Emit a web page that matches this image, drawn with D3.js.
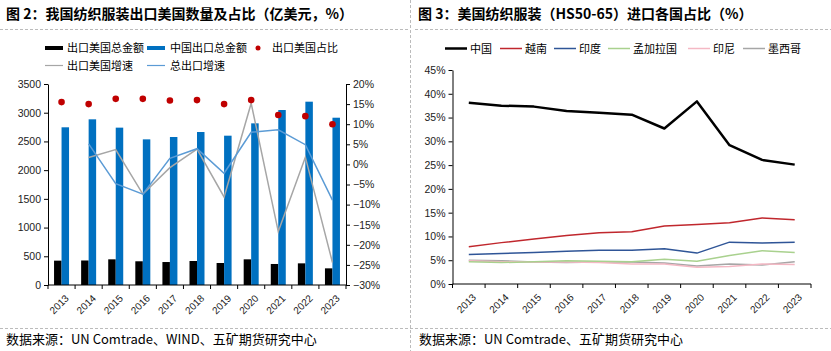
<!DOCTYPE html>
<html lang="zh">
<head>
<meta charset="utf-8"/>
<title>纺织服装出口美国</title>
<script src="https://d3js.org/d3.v7.min.js"></script>
<style>
    body { margin: 0; background: #fff; }
    svg { font-family: "Liberation Sans", Arial, sans-serif; }
    .cn { font-family: "Noto Sans CJK SC", sans-serif; }
    .axis path, .axis line { stroke: #000; }
    .axis text { font-size: 10px; fill: #222; }
</style>
</head>
<body>
<svg id="chart" width="831" height="351"></svg>
<script>
    // 年份
    const years = ["2013", "2014", "2015", "2016", "2017", "2018", "2019", "2020", "2021", "2022", "2023"];

    // 图2 数据（亿美元，%）
    const usExport = [424, 427, 447, 413, 400, 418, 383, 447, 366, 377, 290];
    const totalExport = [2746, 2885, 2740, 2536, 2577, 2664, 2600, 2815, 3047, 3192, 2913];
    const usShare = [15.5, 15.0, 16.3, 16.3, 15.9, 16.0, 15.0, 16.0, 12.3, 12.0, 10.0];
    const usGrowth = [null, 1.7, 3.7, -7.4, -0.8, 3.8, -8.1, 15.2, -16.7, 1.8, -24.4];
    const totalGrowth = [null, 5.1, -4.8, -7.4, 1.5, 3.9, -2.2, 8.0, 8.6, 4.9, -8.9];
    const leftTicks = [0, 500, 1000, 1500, 2000, 2500, 3000, 3500];
    const rightTicks = [-30, -25, -20, -15, -10, -5, 0, 5, 10, 15, 20];

    // 图3 数据（%）
    const countries = ["中国", "越南", "印度", "孟加拉国", "印尼", "墨西哥"];
    const china = [38.1, 37.5, 37.3, 36.4, 36.0, 35.6, 32.7, 38.4, 29.2, 26.1, 25.1];
    const vietnam = [7.85, 8.7, 9.46, 10.2, 10.8, 11.0, 12.2, 12.5, 12.9, 13.9, 13.5];
    const india = [6.2, 6.4, 6.6, 6.9, 7.1, 7.1, 7.4, 6.5, 8.8, 8.6, 8.8];
    const bangladesh = [4.7, 4.5, 4.7, 4.9, 4.8, 4.7, 5.2, 4.8, 6.0, 7.0, 6.6];
    const indonesia = [4.9, 4.7, 4.6, 4.6, 4.5, 4.2, 4.2, 3.5, 3.7, 4.2, 4.1];
    const mexico = [5.0, 4.9, 4.6, 4.5, 4.6, 4.6, 4.4, 3.8, 4.2, 4.0, 4.7];
    const shareTicks = [0, 5, 10, 15, 20, 25, 30, 35, 40, 45];

    const svg = d3.select("#chart");

    // 分隔线
    svg.append("line").attr("x1", 410.5).attr("x2", 410.5).attr("y1", 0).attr("y2", 351)
        .attr("stroke", "#bbb").attr("stroke-dasharray", "3,2");
    [[0, 410], [415, 831]].forEach(r => {
        svg.append("line").attr("x1", r[0]).attr("x2", r[1]).attr("y1", 29.5).attr("y2", 29.5)
            .attr("stroke", "#bbb").attr("stroke-dasharray", "3,2");
    });
    svg.append("line").attr("x1", 0).attr("x2", 831).attr("y1", 328.5).attr("y2", 328.5)
        .attr("stroke", "#bbb").attr("stroke-dasharray", "3,2");

    // 标题
    svg.append("text").attr("class", "cn").attr("x", 6).attr("y", 19)
        .style("font-size", "14px").style("font-weight", "bold")
        .text("图 2：我国纺织服装出口美国数量及占比（亿美元，%）");
    svg.append("text").attr("class", "cn").attr("x", 418).attr("y", 19)
        .style("font-size", "14px").style("font-weight", "bold")
        .text("图 3：美国纺织服装（HS50-65）进口各国占比（%）");

    // 数据来源
    svg.append("text").attr("class", "cn").attr("x", 6).attr("y", 344)
        .style("font-size", "13px").text("数据来源：UN Comtrade、WIND、五矿期货研究中心");
    svg.append("text").attr("class", "cn").attr("x", 419).attr("y", 344)
        .style("font-size", "13px").text("数据来源：UN Comtrade、五矿期货研究中心");

    // ---------- 图2 ----------
    const g1 = svg.append("g");
    const x1 = d3.scaleBand().domain(years).range([48, 346]);
    const yL = d3.scaleLinear().domain([0, 3500]).range([285, 84]);
    const yR = d3.scaleLinear().domain([-30, 20]).range([285, 84]);
    const barW = 7.5;

    g1.append("g").attr("class", "axis").attr("transform", "translate(48,0)")
        .call(d3.axisLeft(yL).tickValues(leftTicks).tickSize(4).tickSizeOuter(0)
            .tickFormat(d3.format("d")))
        .selectAll("text").style("font-size", "10.5px");
    g1.append("g").attr("class", "axis").attr("transform", "translate(346,0)")
        .call(d3.axisRight(yR).tickValues(rightTicks).tickSize(4).tickSizeOuter(0)
            .tickFormat(d => (d < 0 ? "\u2212" + Math.abs(d) : d) + "%"))
        .selectAll("text").style("font-size", "10.5px");

    g1.selectAll("rect.us").data(years).enter().append("rect")
        .attr("x", d => x1(d) + x1.bandwidth() / 2 - barW)
        .attr("width", barW)
        .attr("y", (d, i) => yL(usExport[i]))
        .attr("height", (d, i) => yL(0) - yL(usExport[i]))
        .attr("fill", "#000");
    g1.selectAll("rect.total").data(years).enter().append("rect")
        .attr("x", d => x1(d) + x1.bandwidth() / 2)
        .attr("width", barW)
        .attr("y", (d, i) => yL(totalExport[i]))
        .attr("height", (d, i) => yL(0) - yL(totalExport[i]))
        .attr("fill", "#0070C0");

    // x 轴
    const xAxis1 = g1.append("g").attr("class", "axis").attr("transform", "translate(0,285)");
    xAxis1.append("line").attr("x1", 48).attr("x2", 346).attr("stroke", "#000");
    xAxis1.selectAll("line.tick").data(d3.range(years.length + 1)).enter().append("line")
        .attr("x1", i => 48 + i * x1.step()).attr("x2", i => 48 + i * x1.step())
        .attr("y1", 0).attr("y2", 4).attr("stroke", "#000");
    xAxis1.selectAll("text").data(years).enter().append("text")
        .attr("transform", d => `translate(${x1(d) + x1.bandwidth() / 2 + 3},${9}) rotate(-45)`)
        .attr("text-anchor", "end").attr("dy", "0.7em")
        .text(d => d);

    const line1 = d3.line()
        .defined(d => d.v !== null)
        .x(d => x1(d.y) + x1.bandwidth() / 2)
        .y(d => yR(d.v));
    g1.append("path").datum(years.map((y, i) => ({y: y, v: usGrowth[i]})))
        .attr("d", line1).attr("fill", "none").attr("stroke", "#A6A6A6").attr("stroke-width", 1.5);
    g1.append("path").datum(years.map((y, i) => ({y: y, v: totalGrowth[i]})))
        .attr("d", line1).attr("fill", "none").attr("stroke", "#5B9BD5").attr("stroke-width", 1.5);

    g1.selectAll("circle").data(years).enter().append("circle")
        .attr("cx", d => x1(d) + x1.bandwidth() / 2)
        .attr("cy", (d, i) => yR(usShare[i]))
        .attr("r", 3.3).attr("fill", "#C00000");

    // 图2 图例
    const leg1 = g1.append("g").attr("class", "cn").style("font-size", "11px");
    leg1.append("rect").attr("x", 45).attr("y", 46).attr("width", 18).attr("height", 4).attr("fill", "#000");
    leg1.append("text").attr("x", 67).attr("y", 52).text("出口美国总金额");
    leg1.append("rect").attr("x", 147).attr("y", 46).attr("width", 18).attr("height", 4).attr("fill", "#0070C0");
    leg1.append("text").attr("x", 170).attr("y", 52).text("中国出口总金额");
    leg1.append("circle").attr("cx", 258).attr("cy", 48).attr("r", 2.5).attr("fill", "#C00000");
    leg1.append("text").attr("x", 272).attr("y", 52).text("出口美国占比");
    leg1.append("line").attr("x1", 45).attr("x2", 63).attr("y1", 65.5).attr("y2", 65.5)
        .attr("stroke", "#A6A6A6").attr("stroke-width", 1.2);
    leg1.append("text").attr("x", 67).attr("y", 69.5).text("出口美国增速");
    leg1.append("line").attr("x1", 147).attr("x2", 165).attr("y1", 65.5).attr("y2", 65.5)
        .attr("stroke", "#5B9BD5").attr("stroke-width", 1.2);
    leg1.append("text").attr("x", 170).attr("y", 69.5).text("总出口增速");

    // ---------- 图3 ----------
    const g2 = svg.append("g");
    const x2 = d3.scaleBand().domain(years).range([452.5, 811]);
    const y2 = d3.scaleLinear().domain([0, 45]).range([284, 70]);

    g2.append("g").attr("class", "axis").attr("transform", "translate(452.5,0)")
        .call(d3.axisLeft(y2).tickValues(shareTicks).tickSize(4).tickSizeOuter(0)
            .tickFormat(d => d + "%"))
        .selectAll("text").style("font-size", "10.5px");

    const xAxis2 = g2.append("g").attr("class", "axis").attr("transform", "translate(0,284)");
    xAxis2.append("line").attr("x1", 452.5).attr("x2", 811).attr("stroke", "#000");
    xAxis2.selectAll("line.tick").data(d3.range(years.length + 1)).enter().append("line")
        .attr("x1", i => 452.5 + i * x2.step()).attr("x2", i => 452.5 + i * x2.step())
        .attr("y1", 0).attr("y2", 4).attr("stroke", "#000");
    xAxis2.selectAll("text").data(years).enter().append("text")
        .attr("transform", d => `translate(${x2(d) + x2.bandwidth() / 2 + 3},${9}) rotate(-45)`)
        .attr("text-anchor", "end").attr("dy", "0.7em")
        .text(d => d);

    const series = [
        {name: "墨西哥", values: mexico, color: "#A6A6A6", w: 1.5},
        {name: "印尼", values: indonesia, color: "#F4B8C4", w: 1.5},
        {name: "孟加拉国", values: bangladesh, color: "#A9D18E", w: 1.5},
        {name: "印度", values: india, color: "#2F5597", w: 1.5},
        {name: "越南", values: vietnam, color: "#C0272D", w: 1.5},
        {name: "中国", values: china, color: "#000000", w: 2.5}
    ];
    const line2 = d3.line()
        .x((d, i) => x2(years[i]) + x2.bandwidth() / 2)
        .y(d => y2(d));
    g2.selectAll("path.series").data(series).enter().append("path")
        .attr("d", d => line2(d.values))
        .attr("fill", "none")
        .attr("stroke", d => d.color)
        .attr("stroke-width", d => d.w)
        .attr("stroke-linejoin", "round");

    // 图3 图例
    const legX = [445, 500, 554, 608, 688, 743];
    const leg2 = g2.append("g").attr("class", "cn").style("font-size", "11px");
    countries.forEach((c, i) => {
        const s = series.find(d => d.name === c);
        leg2.append("line").attr("x1", legX[i]).attr("x2", legX[i] + 22)
            .attr("y1", 48.5).attr("y2", 48.5)
            .attr("stroke", s.color).attr("stroke-width", c === "中国" ? 2.5 : 1.5);
        leg2.append("text").attr("x", legX[i] + 25).attr("y", 52.5).text(c);
    });
</script>
</body>
</html>
